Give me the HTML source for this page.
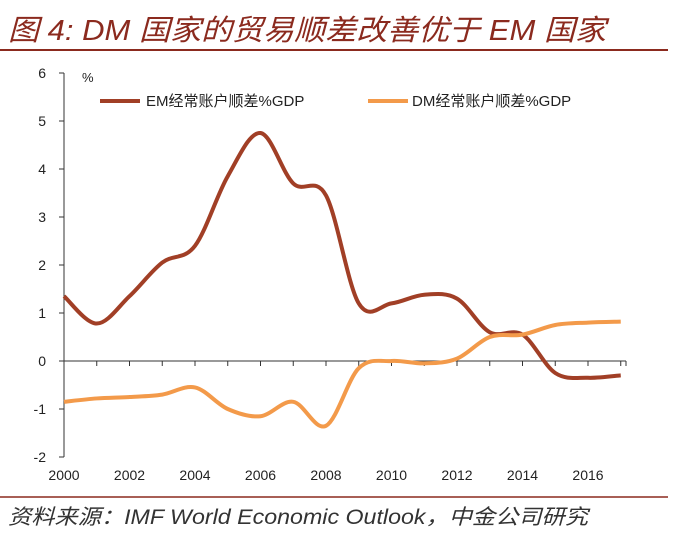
<!DOCTYPE html>
<html><head><meta charset="utf-8"><style>
body{margin:0;background:#fff;width:678px;height:534px;overflow:hidden;font-family:"Liberation Sans","Noto Sans CJK SC",sans-serif}
</style></head><body>
<svg width="678" height="534">
<text x="8" y="40" font-size="29" font-style="italic" fill="#8b2a1e" textLength="598" lengthAdjust="spacingAndGlyphs" font-family="Liberation Sans, Noto Sans CJK SC, sans-serif">图 4: DM 国家的贸易顺差改善优于 EM 国家</text>
<line x1="0" y1="50" x2="668" y2="50" stroke="#8b2a1e" stroke-width="2"/>
<line x1="0" y1="497" x2="668" y2="497" stroke="#8b2a1e" stroke-width="1.5"/>
<text x="8" y="524" font-size="21" font-style="italic" fill="#333" textLength="580" lengthAdjust="spacingAndGlyphs">资料来源：IMF World Economic Outlook，中金公司研究</text>
<text x="82" y="82" font-size="13" fill="#222">%</text>
<g>
<line x1="100" y1="101" x2="140" y2="101" stroke="#a13f26" stroke-width="4"/>
<text x="146" y="106" font-size="15" fill="#222">EM经常账户顺差%GDP</text>
<line x1="368" y1="101" x2="408" y2="101" stroke="#f39a4a" stroke-width="4"/>
<text x="412" y="106" font-size="15" fill="#222">DM经常账户顺差%GDP</text>
</g>
<g id="axes"></g>
<g id="series"></g>
</svg>
<script>
const years=[2000,2001,2002,2003,2004,2005,2006,2007,2008,2009,2010,2011,2012,2013,2014,2015,2016,2017];
const emValues=[1.35,0.78,1.35,2.05,2.4,3.85,4.75,3.7,3.45,1.2,1.2,1.38,1.3,0.6,0.55,-0.25,-0.35,-0.3];
const dmValues=[-0.85,-0.78,-0.75,-0.7,-0.55,-1.0,-1.15,-0.85,-1.35,-0.15,0.0,-0.05,0.05,0.5,0.55,0.75,0.8,0.82];
const yTicks=[-2,-1,0,1,2,3,4,5,6];
const xTickLabels=[2000,2002,2004,2006,2008,2010,2012,2014,2016];
const NS="http://www.w3.org/2000/svg";
const x=v=>64+(v-2000)*32.75;
const y=v=>361-v*48;
function mk(tag,attrs,parent){const e=document.createElementNS(NS,tag);for(const k in attrs)e.setAttribute(k,attrs[k]);parent.appendChild(e);return e;}
const ax=document.getElementById('axes');
let yl=mk('line',{x1:64,y1:y(6),x2:64,y2:y(-2),stroke:'#333','stroke-width':1},ax);


let xl=mk('line',{x1:64,y1:y(0),x2:626,y2:y(0),stroke:'#333','stroke-width':1},ax);


yTicks.forEach(t=>{
 mk('line',{x1:59,y1:y(t),x2:64,y2:y(t),stroke:'#333'},ax);
 const tx=mk('text',{x:46,y:y(t)+5,'font-size':14,'text-anchor':'end',fill:'#222'},ax);tx.textContent=t;
 
 
});
years.forEach(yr=>{mk('line',{x1:x(yr),y1:y(0),x2:x(yr),y2:y(0)+5,stroke:'#333'},ax);});
mk('line',{x1:626,y1:y(0),x2:626,y2:y(0)+5,stroke:'#333'},ax);
xTickLabels.forEach(yr=>{
 const tx=mk('text',{x:x(yr),y:480,'font-size':14,'text-anchor':'middle',fill:'#222'},ax);tx.textContent=yr;
 
 
});
function path(vals){
 const p=vals.map((v,i)=>[x(years[i]),y(v)]);
 let d=`M${p[0][0]},${p[0][1]}`;
 for(let i=0;i<p.length-1;i++){
  const p0=p[i-1]||p[i],p1=p[i],p2=p[i+1],p3=p[i+2]||p2;
  const c1=[p1[0]+(p2[0]-p0[0])/6,p1[1]+(p2[1]-p0[1])/6];
  const c2=[p2[0]-(p3[0]-p1[0])/6,p2[1]-(p3[1]-p1[1])/6];
  d+=` C${c1[0]},${c1[1]} ${c2[0]},${c2[1]} ${p2[0]},${p2[1]}`;
 }
 return d;
}
const sg=document.getElementById('series');
let em=mk('path',{d:path(emValues),fill:'none',stroke:'#a13f26','stroke-width':4},sg);


let dm=mk('path',{d:path(dmValues),fill:'none',stroke:'#f39a4a','stroke-width':4},sg);


</script>
</body></html>
